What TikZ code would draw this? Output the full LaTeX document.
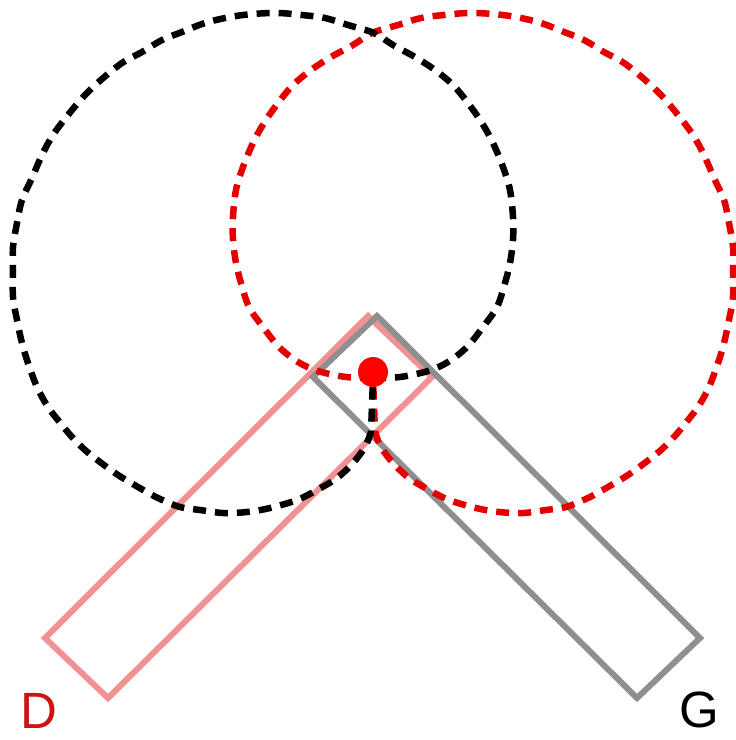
\documentclass[tikz,border=0pt]{standalone}
\usepackage{fontspec}
\setmainfont{Liberation Sans}
\definecolor{armpink}{RGB}{242,145,145}
\definecolor{armgray}{RGB}{143,143,143}
\definecolor{pathred}{RGB}{228,0,0}
\definecolor{labelred}{RGB}{204,20,20}
\tikzset{
  armbox/.style={line width=6pt, line join=miter},
  reach/.style={line width=6.5pt, dash pattern=on 13pt off 9pt},
  lbl/.style={anchor=base, inner sep=0pt, font=\fontsize{51}{51}\selectfont},
  reachpath/.style={insert path={
    plot[smooth, tension=0.55] coordinates {
      (373,378) (400,377) (428,371) (448,362) (467,347) (483,327) (497,307)
      (505,283) (510,263) (513,240) (513,217) (510,190) (503,167) (493,143)
      (482,123) (468,103) (453,85) (435,70) (415,57) (393,45) (374,33)
      (348,25) (325,18) (302,15) (278,13) (253,14) (230,17) (205,23)
      (182,32) (162,40) (142,52) (122,63) (102,79) (85,95) (68,115)
      (53,135) (42,155) (32,178) (22,200) (17,223) (13,247) (13,270)
      (13,297) (17,320) (22,343) (28,363) (37,387) (48,407) (62,425)
      (72,437) (85,450) (100,462) (118,475) (138,487) (158,498) (180,507)
      (200,510) (223,513) (247,512) (270,508) (297,500) (317,490)
      (337,478) (353,463) (365,447) (371,432)
    } -- cycle}}
}
\begin{document}
\begin{tikzpicture}[x=1pt, y=-1pt]
  \useasboundingbox (0,0) rectangle (736,740);
  % arms
  \draw[armbox, armpink] (368,316) -- (432,377) -- (108,698) -- (45,638) -- cycle;
  \draw[armbox, armgray] (377,316) -- (700,638) -- (637,698) -- (313,377) -- cycle;
  % reach curves
  \begin{scope}[shift={(746,0)}, xscale=-1]
    \draw[reach, pathred, reachpath];
  \end{scope}
  \draw[reach, black, reachpath];
  % joint
  \node[circle, fill=red, inner sep=0pt, minimum size=30pt] (pivot) at (373,372) {};
  % labels
  \node[lbl, text=labelred] (dlabel) at (39,728) {D};
  \node[lbl, text=black] (glabel) at (699,727) {G};
\end{tikzpicture}
\end{document}
